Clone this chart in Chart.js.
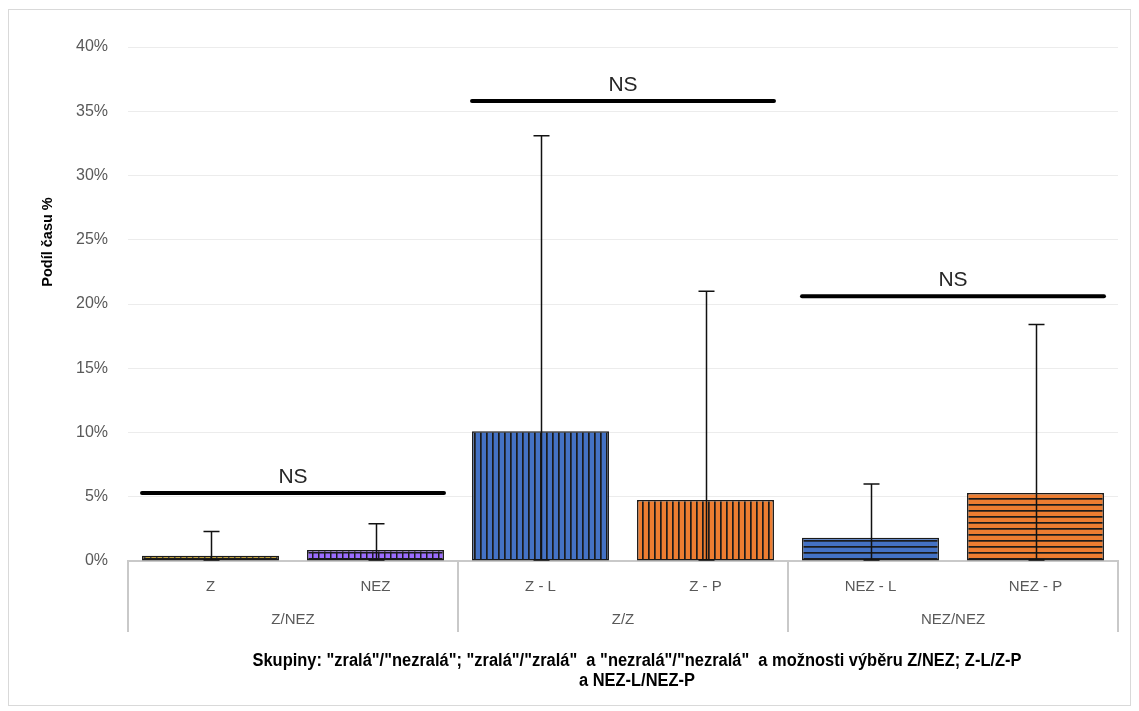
<!DOCTYPE html>
<html>
<head>
<meta charset="utf-8">
<script src="https://cdn.jsdelivr.net/npm/chart.js@4"></script>
<style>
html,body{margin:0;padding:0;background:#fff;}
#wrap{width:1139px;height:711px;position:relative;}
</style>
</head>
<body>
<div id="wrap"><canvas id="c" width="1139" height="711"></canvas></div>
<script>
// ---- data ----
const categories = ['Z', 'NEZ', 'Z - L', 'Z - P', 'NEZ - L', 'NEZ - P'];
const groupLabels = ['Z/NEZ', 'Z/Z', 'NEZ/NEZ'];
const groupSizes = [2, 2, 2];
const values = [0.4, 0.85, 10.1, 4.75, 1.8, 5.3];
const errorHigh = [2.3, 2.9, 33.1, 21.0, 6.0, 18.4];
const errorLow = [0, 0, 0, 0, 0, 0];
const nsLevels = [5.3, 35.8, 20.6];
const nsText = ['NS', 'NS', 'NS'];
const yTicks = [0, 5, 10, 15, 20, 25, 30, 35, 40];
const yTitle = 'Podíl času %';
const xTitle = ['Skupiny: "zralá"/"nezralá"; "zralá"/"zralá"  a "nezralá"/"nezralá"  a možnosti výběru Z/NEZ; Z-L/Z-P', 'a NEZ-L/NEZ-P'];

// ---- patterns ----
function pat(base, kind) {
  const s = 6;
  const c = document.createElement('canvas');
  c.width = s; c.height = s;
  const g = c.getContext('2d');
  g.fillStyle = base; g.fillRect(0, 0, s, s);
  g.fillStyle = '#1b1b1b';
  if (kind === 'v') g.fillRect(0, 0, 1.7, s);
  else if (kind === 'h') g.fillRect(0, 0, s, 1.7);
  else { g.fillRect(0, 0, 1.5, s); g.fillRect(0, 0, s, 1.5); }
  return document.getElementById('c').getContext('2d').createPattern(c, 'repeat');
}
const fills = [
  pat('#c09510', 'g'),
  pat('#9b6cff', 'g'),
  pat('#4472c4', 'v'),
  pat('#ed7d31', 'v'),
  pat('#4472c4', 'h'),
  pat('#ed7d31', 'h')
];

const FONT = '"Liberation Sans", Arial, sans-serif';

const overlay = {
  id: 'overlay',
  beforeDraw(chart) {
    const ctx = chart.ctx;
    ctx.save();
    ctx.strokeStyle = '#d9d9d9';
    ctx.lineWidth = 1;
    ctx.strokeRect(8.5, 9.5, 1122, 696);
    ctx.restore();
  },
  afterDatasetsDraw(chart) {
    const ctx = chart.ctx;
    const y = chart.scales.y;
    const meta = chart.getDatasetMeta(0);
    const ca = chart.chartArea;
    ctx.save();
    // error bars
    ctx.strokeStyle = '#111';
    ctx.lineWidth = 1.5;
    meta.data.forEach((bar, i) => {
      const cx = Math.round(bar.x) + 0.5;
      const yh = y.getPixelForValue(errorHigh[i]);
      const yl = y.getPixelForValue(errorLow[i]) - 1;
      ctx.beginPath();
      ctx.moveTo(cx, yh); ctx.lineTo(cx, yl);
      ctx.moveTo(cx - 8, yh); ctx.lineTo(cx + 8, yh);
      ctx.moveTo(cx - 8, yl); ctx.lineTo(cx + 8, yl);
      ctx.stroke();
    });
    // NS brackets
    let idx = 0;
    groupSizes.forEach((n, g) => {
      const b0 = meta.data[idx], b1 = meta.data[idx + n - 1];
      const x0 = b0.x - b0.width / 2, x1 = b1.x + b1.width / 2;
      const yy = y.getPixelForValue(nsLevels[g]);
      ctx.strokeStyle = '#000';
      ctx.lineWidth = 4;
      ctx.lineCap = 'round';
      ctx.beginPath(); ctx.moveTo(x0, yy); ctx.lineTo(x1, yy); ctx.stroke();
      ctx.fillStyle = '#262626';
      ctx.font = '21px ' + FONT;
      ctx.textAlign = 'center'; ctx.textBaseline = 'alphabetic';
      ctx.fillText(nsText[g], (x0 + x1) / 2, yy - 10);
      idx += n;
    });
    ctx.lineCap = 'butt';
    // group dividers and labels
    ctx.strokeStyle = '#c9c9c9';
    ctx.lineWidth = 2;
    const bottom = ca.bottom + 71;
    idx = 0;
    const bounds = [ca.left];
    groupSizes.forEach(n => { idx += n; bounds.push(ca.left + (ca.right - ca.left) * idx / categories.length); });
    bounds.forEach(bx => {
      ctx.beginPath(); ctx.moveTo(Math.round(bx), ca.bottom); ctx.lineTo(Math.round(bx), bottom); ctx.stroke();
    });
    ctx.fillStyle = '#595959';
    ctx.font = '15px ' + FONT;
    ctx.textAlign = 'center'; ctx.textBaseline = 'middle';
    groupLabels.forEach((t, g) => {
      ctx.fillText(t, (bounds[g] + bounds[g + 1]) / 2, ca.bottom + 59);
    });
    // x axis title (condensed bold)
    ctx.fillStyle = '#000';
    ctx.font = 'bold 17.5px ' + FONT;
    ctx.textAlign = 'center'; ctx.textBaseline = 'middle';
    const w = ctx.measureText(xTitle[0]).width;
    const k = 769 / w;
    ctx.save();
    ctx.translate(637, 0);
    ctx.scale(k, 1);
    ctx.fillText(xTitle[0], 0, 661);
    ctx.fillText(xTitle[1], 0, 681);
    ctx.restore();
    // y axis title
    ctx.save();
    ctx.translate(48, 242);
    ctx.rotate(-Math.PI / 2);
    ctx.font = 'bold 14.5px ' + FONT;
    ctx.fillText(yTitle, 0, 0);
    ctx.restore();
    ctx.restore();
  }
};

new Chart(document.getElementById('c'), {
  type: 'bar',
  data: {
    labels: categories,
    datasets: [{
      data: values,
      backgroundColor: fills,
      borderColor: '#1a1a1a',
      borderWidth: 1.5,
      borderSkipped: false,
      categoryPercentage: 1,
      barPercentage: 0.83
    }]
  },
  options: {
    responsive: false,
    animation: false,
    devicePixelRatio: 1,
    layout: { padding: { left: 30, top: 47, right: 21, bottom: 0 } },
    plugins: { legend: { display: false }, tooltip: { enabled: false } },
    scales: {
      x: {
        grid: { display: false, drawTicks: false },
        border: { color: '#c9c9c9', width: 2 },
        ticks: { color: '#595959', font: { family: FONT, size: 15 }, padding: 17, maxRotation: 0 },
        afterFit(s) { s.height = 150; }
      },
      y: {
        min: 0, max: 40,
        afterBuildTicks(s) { s.ticks = yTicks.map(v => ({ value: v })); },
        grid: { color: '#ececec', drawTicks: false, lineWidth: 1 },
        border: { display: false },
        ticks: { color: '#595959', font: { family: FONT, size: 16 }, padding: 20, callback: v => v + '%' },
        afterFit(s) { s.width = 98; }
      }
    }
  },
  plugins: [overlay]
});
</script>
</body>
</html>
